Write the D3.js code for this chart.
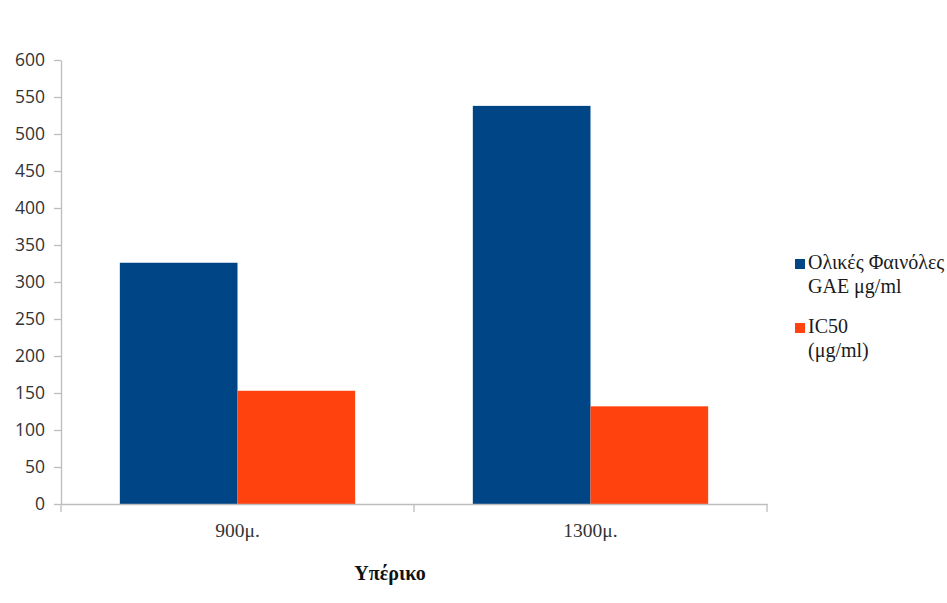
<!DOCTYPE html>
<html>
<head>
<meta charset="utf-8">
<script src="https://cdn.jsdelivr.net/npm/d3@7"></script>
<style>
  html, body { margin: 0; padding: 0; background: #fff; }
  svg { display: block; }
</style>
</head>
<body>
<svg id="chart" width="947" height="603"></svg>
<script>
// Sample categories and the two measured series
const categories = ["900μ.", "1300μ."];
const seriesNames = ["Ολικές Φαινόλες GAE μg/ml", "IC50 (μg/ml)"];
const phenols = [326, 538];
const ic50 = [153, 132];
const yTicks = [0, 50, 100, 150, 200, 250, 300, 350, 400, 450, 500, 550, 600];
const legendLines = [["Ολικές Φαινόλες", "GAE μg/ml"], ["IC50", "(μg/ml)"]];
const colors = ["#004586", "#ff420e"];
const xTitle = "Υπέρικο";

const rows = categories.map((c, i) => ({ cat: c, values: [phenols[i], ic50[i]] }));

const svg = d3.select("#chart");
const plotLeft = 61, plotRight = 767, plotTop = 60, plotBottom = 504;

const x = d3.scaleBand().domain(categories).range([plotLeft, plotRight]).padding(0);
const xSeries = d3.scaleBand().domain(d3.range(seriesNames.length))
  .range([x.bandwidth() / 6, x.bandwidth() * 5 / 6]).padding(0);
const y = d3.scaleLinear().domain([0, 600]).range([plotBottom, plotTop]);

const axisColor = "#bdbdbd";
const labelColor = "#333";

// bars
const groups = svg.append("g").selectAll("g").data(rows).join("g")
  .attr("transform", d => `translate(${x(d.cat)},0)`);
groups.selectAll("rect").data(d => d.values).join("rect")
  .attr("x", (d, i) => xSeries(i))
  .attr("width", xSeries.bandwidth())
  .attr("y", d => y(d))
  .attr("height", d => y(0) - y(d))
  .attr("fill", (d, i) => colors[i]);

// y axis
const yAxis = svg.append("g").attr("transform", `translate(${plotLeft},0)`)
  .call(d3.axisLeft(y).tickValues(yTicks).tickSize(7).tickPadding(9).tickSizeOuter(0));
yAxis.select(".domain").attr("stroke", axisColor).attr("stroke-width", 1.3);
yAxis.selectAll(".tick line").attr("stroke", axisColor).attr("stroke-width", 1.3);
yAxis.selectAll(".tick text")
  .attr("fill", labelColor)
  .style("font-family", "'Open Sans', sans-serif")
  .style("font-size", "17.5px");

// x axis
const xAxis = svg.append("g").attr("transform", `translate(0,${plotBottom})`)
  .call(d3.axisBottom(x).tickSize(0).tickPadding(19).tickSizeOuter(0));
xAxis.select(".domain").attr("stroke", axisColor).attr("stroke-width", 1.3);
xAxis.selectAll(".tick text")
  .attr("fill", labelColor)
  .style("font-family", "'Liberation Serif', 'Times New Roman', serif")
  .style("font-size", "19.5px");
// boundary ticks between categories
const bounds = [plotLeft, ...categories.slice(1).map(c => x(c)), plotRight];
svg.append("g").selectAll("line").data(bounds).join("line")
  .attr("x1", d => d).attr("x2", d => d)
  .attr("y1", plotBottom).attr("y2", plotBottom + 8)
  .attr("stroke", axisColor).attr("stroke-width", 1.3);

// x title
svg.append("text")
  .attr("x", 390).attr("y", 580)
  .attr("text-anchor", "middle")
  .style("font-family", "'Liberation Serif', 'Times New Roman', serif")
  .style("font-size", "20px")
  .style("font-weight", "bold")
  .attr("fill", "#111")
  .text(xTitle);

// legend
const legend = svg.append("g");
const legendY = [269, 333];
legendLines.forEach((lines, i) => {
  legend.append("rect")
    .attr("x", 795).attr("y", legendY[i] - 10)
    .attr("width", 10).attr("height", 10)
    .attr("fill", colors[i]);
  const t = legend.append("text")
    .attr("x", 808).attr("y", legendY[i])
    .attr("fill", "#1a1a1a")
    .style("font-family", "'Liberation Serif', 'Times New Roman', serif")
    .style("font-size", "20px");
  lines.forEach((ln, j) => {
    t.append("tspan").attr("x", 808).attr("dy", j === 0 ? 0 : 24).text(ln);
  });
});
</script>
</body>
</html>
